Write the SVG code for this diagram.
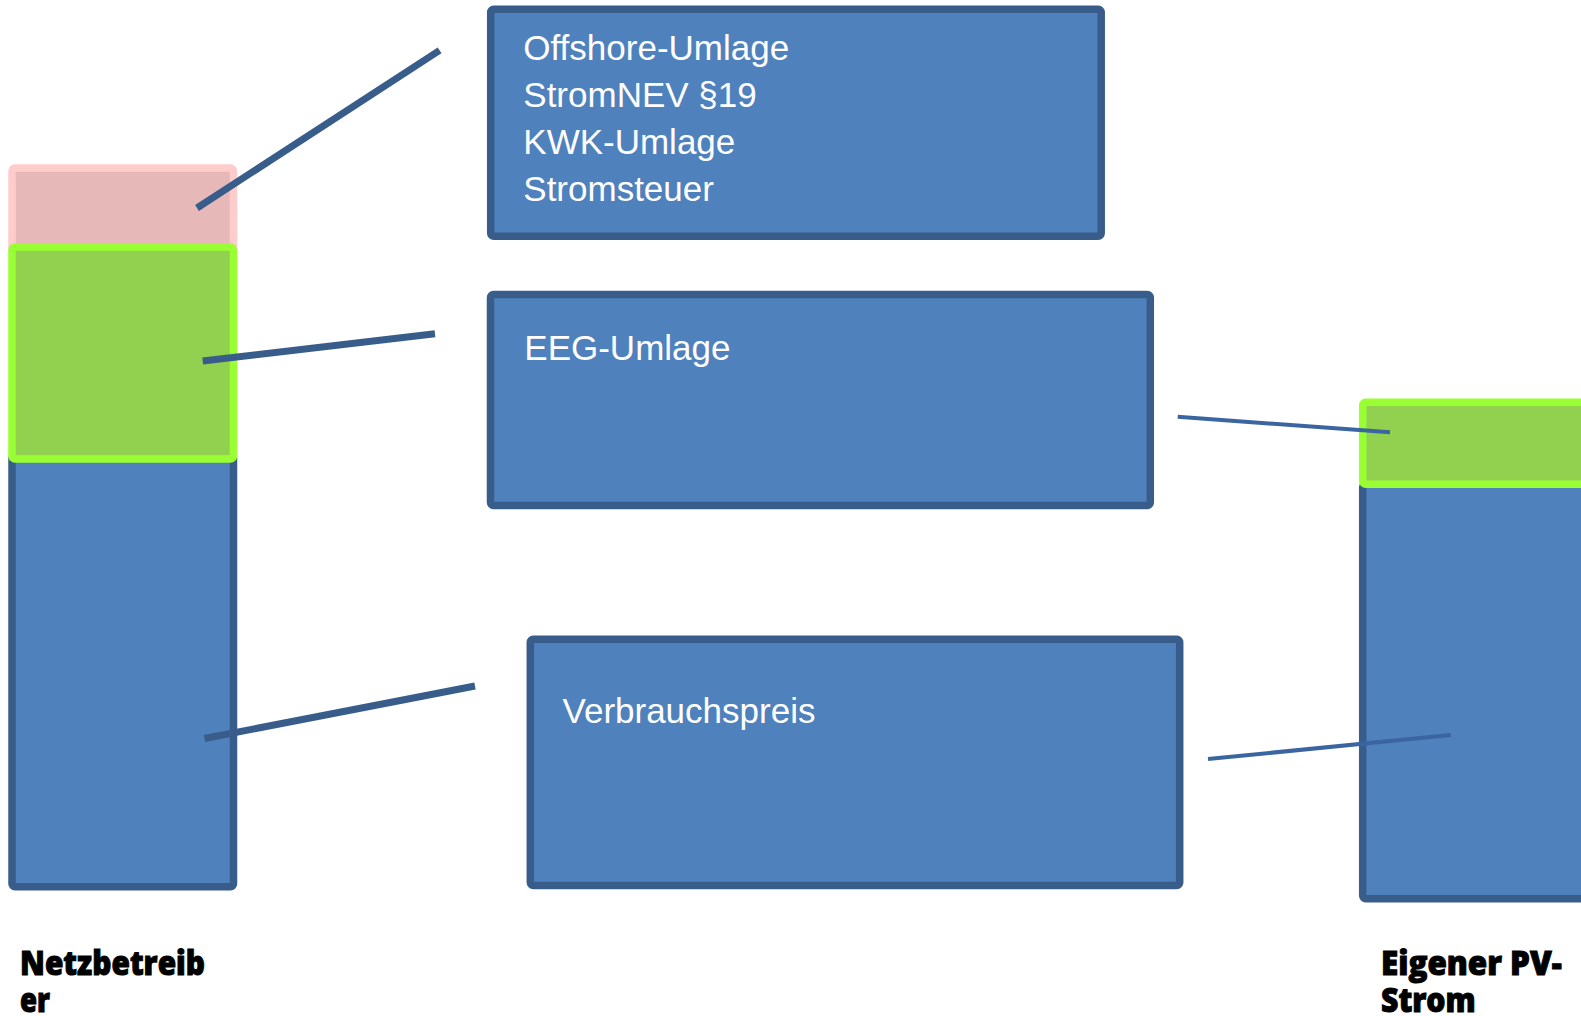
<svg xmlns="http://www.w3.org/2000/svg" width="1581" height="1016" viewBox="0 0 1581 1016">
<style>
.blue{fill:#4F81BD;stroke:#385D8A;stroke-width:7.5}
.pink{fill:#E6B9B8;stroke:#FFCCCC;stroke-width:7.5}
.green{fill:#92D050;stroke:#99FF33;stroke-width:7.5}
.t{font-family:"Liberation Sans",Arial,sans-serif;font-size:35px;fill:#FFFFFF}
.lbl{font-family:"Open Sans","DejaVu Sans",sans-serif;font-weight:800;font-size:33px;fill:#000000;stroke:#000000;stroke-width:1}
.thick{stroke:#385D8A;stroke-width:7;fill:none}
.thin{stroke:#3A65A0;stroke-width:4;fill:none}
</style>
<rect width="1581" height="1016" fill="#FFFFFF"/>
<g id="bar-netzbetreiber">
<rect class="blue" x="12" y="455" width="221.5" height="431.7" rx="3"/>
<rect class="pink" x="12" y="168" width="221.5" height="85" rx="3"/>
<rect class="green" x="12" y="247" width="221.5" height="212" rx="3"/>
<text class="lbl" x="20" y="975" textLength="185" lengthAdjust="spacingAndGlyphs">Netzbetreib</text>
<text class="lbl" x="20" y="1012" textLength="30" lengthAdjust="spacingAndGlyphs">er</text>
</g>
<g id="bar-pv">
<rect class="blue" x="1362.7" y="484" width="260" height="414.7" rx="3"/>
<rect class="green" x="1362.7" y="402.2" width="260" height="82" rx="3"/>
<text class="lbl" x="1381" y="975" textLength="180.7" lengthAdjust="spacingAndGlyphs">Eigener PV-</text>
<text class="lbl" x="1381" y="1012" textLength="94.7" lengthAdjust="spacingAndGlyphs">Strom</text>
</g>
<g id="box-umlagen">
<rect class="blue" x="490.7" y="9.3" width="610.5" height="227" rx="3"/>
<text class="t" x="523.3" y="60">Offshore-Umlage</text>
<text class="t" x="523.3" y="106.8">StromNEV §19</text>
<text class="t" x="523.3" y="153.5">KWK-Umlage</text>
<text class="t" x="523.3" y="200.5">Stromsteuer</text>
</g>
<g id="box-eeg">
<rect class="blue" x="490.5" y="294.5" width="659.8" height="211" rx="3"/>
<text class="t" x="524.3" y="360">EEG-Umlage</text>
</g>
<g id="box-verbrauch">
<rect class="blue" x="530.3" y="639.3" width="649.4" height="246.2" rx="3"/>
<text class="t" x="562.5" y="723">Verbrauchspreis</text>
</g>
<g id="connectors">
<line class="thick" x1="439.6" y1="50.4" x2="197" y2="208"/>
<line class="thick" x1="202.7" y1="361" x2="435" y2="333.7"/>
<line class="thick" x1="204.5" y1="738.5" x2="475" y2="686"/>
<line class="thin" x1="1177.7" y1="416.8" x2="1390" y2="432.3"/>
<line class="thin" x1="1208" y1="759" x2="1450.7" y2="735"/>
</g>
</svg>
